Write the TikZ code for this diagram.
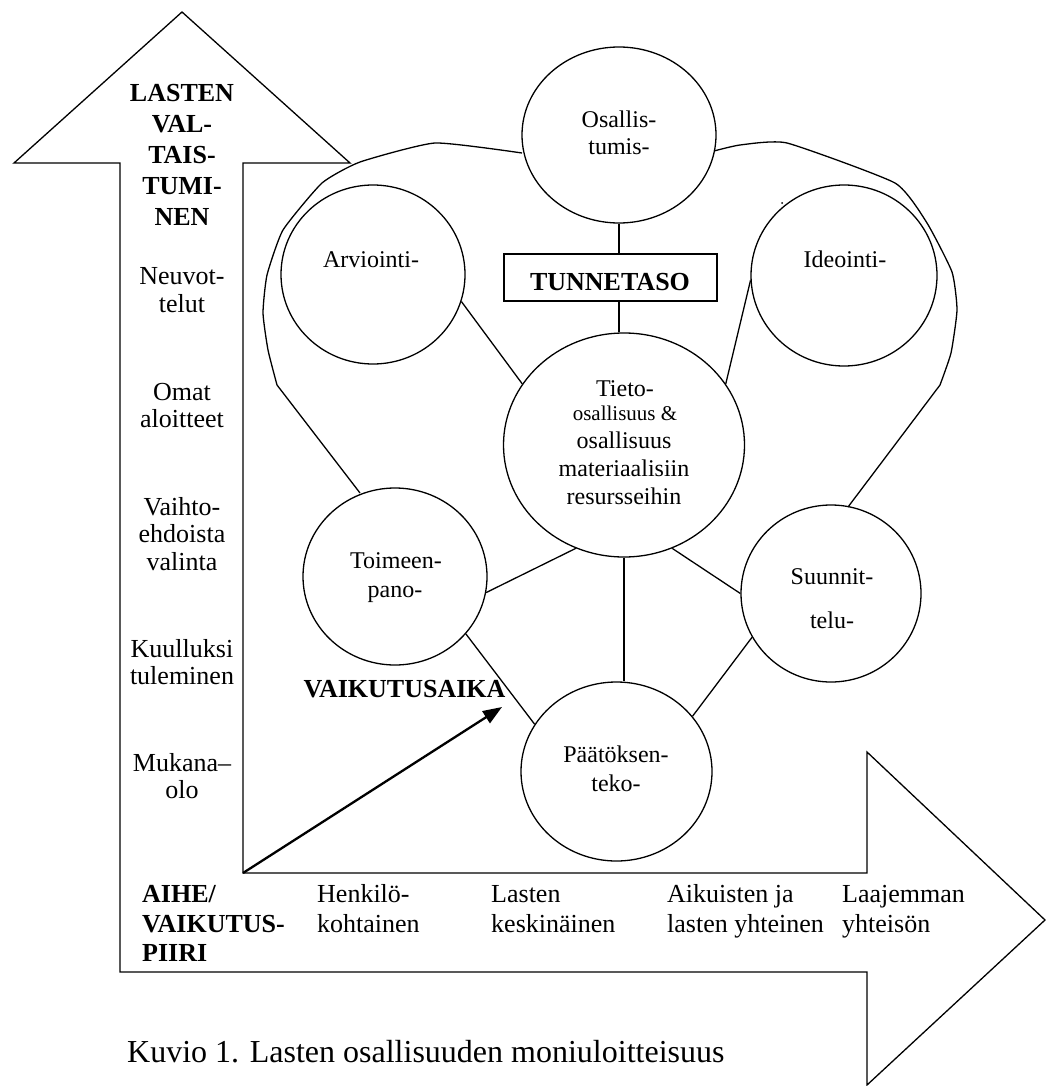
\documentclass[tikz,border=0pt]{standalone}
\usepackage{fontspec}
\setmainfont{Liberation Serif}
\usetikzlibrary{shapes.geometric,arrows.meta}
\tikzset{
  ln/.style={line width=1.3pt},
  bubble/.style={ellipse, draw, line width=1.3pt, inner sep=0pt},
  etxt/.style={inner sep=0pt, anchor=base, font=\fontsize{24}{28}\selectfont},
  stxt/.style={inner sep=0pt, anchor=base, font=\fontsize{21}{25}\selectfont},
  coltxt/.style={inner sep=0pt, anchor=base, font=\fontsize{26}{28}\selectfont},
  hdtxt/.style={inner sep=0pt, anchor=base, font=\fontsize{26}{31}\selectfont\bfseries},
  hdwtxt/.style={inner sep=0pt, anchor=base west, font=\fontsize{26}{31}\selectfont\bfseries},
  bottxt/.style={inner sep=0pt, anchor=base west, font=\fontsize{26}{31}\selectfont},
  captxt/.style={inner sep=0pt, anchor=base west, font=\fontsize{32}{38}\selectfont},
}
\begin{document}
\begin{tikzpicture}[x=1pt,y=-1pt]
\useasboundingbox (0,0) rectangle (1047,1086);
% combined arrows outline
\draw[ln, line join=miter] (120,972) -- (120,163) -- (14,163) -- (182,12) -- (350,163) -- (243,163)
  -- (243,873) -- (867,873) -- (867,752) -- (1045,920) -- (867,1085) -- (867,972) -- cycle;
% heart-shaped outline
\draw[ln] plot[smooth, tension=0.3] coordinates {(522,153) (435,143) (360,162) (322,183) (283,230) (267,275) (263,313) (268,350) (277,385)} -- (360,493);
\draw[ln] plot[smooth, tension=0.3] coordinates {(714,151) (740,145) (787,143) (895,183) (927,223) (952,272) (957,310) (951,353) (940,385)} -- (848,507);
% bubbles
\node[bubble, minimum width=194pt, minimum height=176pt] (osal) at (619,135) {};
\node[bubble, minimum width=184pt, minimum height=179pt] (arv) at (373,274.5) {};
\node[bubble, minimum width=186pt, minimum height=181pt] (ide) at (844,275.5) {};
\node[bubble, minimum width=241pt, minimum height=224pt] (tieto) at (624,445) {};
\node[bubble, minimum width=184pt, minimum height=177pt] (toim) at (395,576.5) {};
\node[bubble, minimum width=191pt, minimum height=179pt] (paat) at (616.5,771.5) {};
\node[bubble, minimum width=180pt, minimum height=177pt] (suun) at (831,593.5) {};
\node[draw, ln, inner sep=0pt, minimum width=213pt, minimum height=47pt] (tunne) at (610.5,277.5) {};
\fill (782,203) circle (1pt);
% connectors
\draw[ln] (osal.south) -- (osal.south |- tunne.north);
\draw[ln] (osal.south |- tunne.south) -- (osal.south |- tieto.north);
\draw[ln] (arv.343) -- (tieto.149);
\draw[ln] (ide.183) -- (tieto.31.5);
\draw[ln] (tieto.245) -- (toim.350);
\draw[ln] (tieto.295) -- (suun.180);
\draw[ln] (tieto.south) -- (tieto.south |- paat.north);
\draw[ln] (toim.321) -- (paat.150);
\draw[ln] (suun.209) -- (paat.36);
% time arrow
\coordinate (corner) at (243,873);
\coordinate (atip) at (502,707);
\draw[line width=2.3pt, -{Triangle[length=19pt,width=14pt]}] (corner) -- (atip);
% bubble texts
\node[etxt] (t1) at (619,128) {Osallis-};
\node[etxt] (t2) at (619,155) {tumis-};
\node[etxt] (t3) at (371,267) {Arviointi-};
\node[etxt] (t4) at (845,267) {Ideointi-};
\node[hdtxt] (t5) at (610,290) {TUNNETASO};
\node[etxt] (t6) at (625,396) {Tieto-};
\node[stxt] (t7) at (625,420) {osallisuus \&};
\node[etxt] (t8) at (624,448) {osallisuus};
\node[etxt] (t9) at (624,476) {materiaalisiin};
\node[etxt] (t10) at (624,504) {resursseihin};
\node[etxt] (t11) at (396,568) {Toimeen-};
\node[etxt] (t12) at (395,597) {pano-};
\node[etxt] (t13) at (616,762) {Päätöksen-};
\node[etxt] (t14) at (616,791) {teko-};
\node[etxt] (t15) at (832,584) {Suunnit-};
\node[etxt] (t16) at (832,628) {telu-};
\node[hdtxt] (t17) at (404.5,697) {VAIKUTUSAIKA};
% left column
\node[hdtxt] (h1) at (182,102) {LASTEN};
\node[hdtxt] (h2) at (182,133) {VAL-};
\node[hdtxt] (h3) at (182,164) {TAIS-};
\node[hdtxt] (h4) at (182,194) {TUMI-};
\node[hdtxt] (h5) at (182,225) {NEN};
\node[coltxt] (c1) at (182,284) {Neuvot-};
\node[coltxt] (c2) at (182,312) {telut};
\node[coltxt] (c3) at (182,400) {Omat};
\node[coltxt] (c4) at (182,427) {aloitteet};
\node[coltxt] (c5) at (182,515) {Vaihto-};
\node[coltxt] (c6) at (182,542) {ehdoista};
\node[coltxt] (c7) at (182,570) {valinta};
\node[coltxt] (c8) at (182,657) {Kuulluksi};
\node[coltxt] (c9) at (182,684) {tuleminen};
\node[coltxt] (c10) at (182,771) {Mukana--};
\node[coltxt] (c11) at (182,798) {olo};
% bottom row
\node[hdwtxt] (b1) at (142,902) {AIHE/};
\node[hdwtxt] (b2) at (142,932) {VAIKUTUS-};
\node[hdwtxt] (b3) at (142,961) {PIIRI};
\node[bottxt] (b4) at (317,902) {Henkilö-};
\node[bottxt] (b5) at (317,932) {kohtainen};
\node[bottxt] (b6) at (491,902) {Lasten};
\node[bottxt] (b7) at (491,932) {keskinäinen};
\node[bottxt] (b8) at (667,902) {Aikuisten ja};
\node[bottxt] (b9) at (667,932) {lasten yhteinen};
\node[bottxt] (b10) at (842,902) {Laajemman};
\node[bottxt] (b11) at (842,932) {yhteisön};
% caption
\node[captxt] (capt) at (127,1062) {Kuvio 1. Lasten osallisuuden moniuloitteisuus};
\end{tikzpicture}
\end{document}
